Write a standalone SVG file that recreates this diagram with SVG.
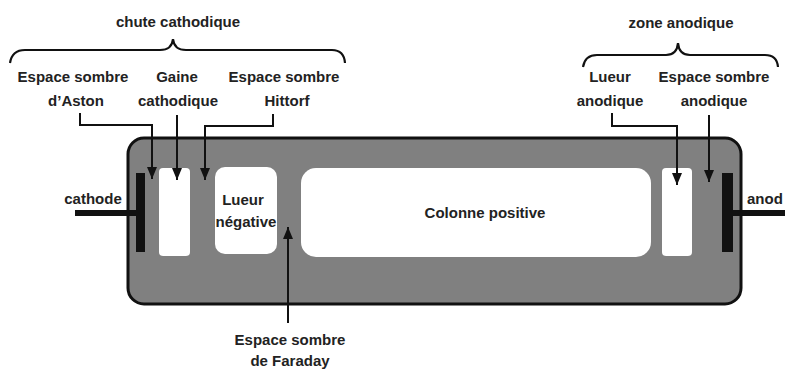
<svg xmlns="http://www.w3.org/2000/svg" width="785" height="372" viewBox="0 0 785 372">
<defs>
<style>
text{font-family:"Liberation Sans",Arial,sans-serif;font-weight:bold;font-size:15px;fill:#222;text-anchor:middle}
.ln{fill:none;stroke:#111;stroke-width:2}
.br{fill:none;stroke:#111;stroke-width:2.2}
.zone{fill:#fff}
</style>
<marker id="ah" viewBox="0 0 12 10" refX="12" refY="5" markerWidth="12" markerHeight="10" markerUnits="userSpaceOnUse" orient="auto">
<path d="M0,0 L12,5 L0,10 Z" fill="#111"/>
</marker>
</defs>
<rect width="785" height="372" fill="#fff"/>
<g id="tube">
<rect x="128" y="138" width="613" height="166" rx="16" fill="#808080" stroke="#111" stroke-width="3"/>
</g>
<g id="cathode">
<rect x="75" y="210" width="62" height="6" fill="#111"/>
<rect x="136" y="173" width="9" height="79" fill="#111"/>
<text x="93" y="204">cathode</text>
</g>
<g id="anode">
<rect x="733" y="210" width="60" height="6" fill="#111"/>
<rect x="722" y="173" width="11" height="79" fill="#111"/>
<text x="747" y="204" style="text-anchor:start">anod</text>
</g>
<g id="gaine-cathodique">
<rect class="zone" x="159" y="168" width="31" height="88" rx="4"/>
</g>
<g id="lueur-negative">
<rect class="zone" x="215" y="167" width="62" height="87" rx="10"/>
<text x="243" y="205">Lueur</text>
<text x="246" y="227">négative</text>
</g>
<g id="colonne-positive">
<rect class="zone" x="301" y="168" width="350" height="89" rx="15"/>
<text x="485" y="218">Colonne positive</text>
</g>
<g id="lueur-anodique">
<rect class="zone" x="662" y="168" width="30" height="88" rx="4"/>
</g>
<g id="chute-cathodique">
<path class="br" d="M10,63 Q12,50 25,50 L160,50 Q172,50 173,39 Q174,50 186,50 L332,50 Q344,50 345,63"/>
<text x="178" y="27">chute  cathodique</text>
</g>
<g id="zone-anodique">
<path class="br" d="M583,67 Q585,55 597,55 L666,55 Q677,55 678,43 Q679,55 690,55 L765,55 Q777,55 778,67"/>
<text x="681" y="28">zone anodique</text>
</g>
<g id="label-aston">
<text x="73" y="82">Espace sombre</text>
<text x="76" y="106">d’Aston</text>
</g>
<g id="label-gaine">
<text x="177" y="82">Gaine</text>
<text x="178" y="106">cathodique</text>
</g>
<g id="label-hittorf">
<text x="284" y="82">Espace sombre</text>
<text x="287" y="106">Hittorf</text>
</g>
<g id="label-lueur-anodique">
<text x="610" y="82">Lueur</text>
<text x="610" y="106">anodique</text>
</g>
<g id="label-espace-anodique">
<text x="714" y="82">Espace sombre</text>
<text x="714" y="106">anodique</text>
</g>
<g id="label-faraday">
<text x="290" y="345">Espace sombre</text>
<text x="290" y="366">de Faraday</text>
</g>
<g id="connectors">
<path class="ln" d="M80,113 L80,125 L152,125 L152,179" marker-end="url(#ah)"/>
<path class="ln" d="M177,115 L177,180" marker-end="url(#ah)"/>
<path class="ln" d="M273,114 L273,126 L205,126 L205,180" marker-end="url(#ah)"/>
<path class="ln" d="M612,113 L612,126 L677,126 L677,185" marker-end="url(#ah)"/>
<path class="ln" d="M709,115 L709,182" marker-end="url(#ah)"/>
<path class="ln" d="M288,323 L288,227" marker-end="url(#ah)"/>
</g>
</svg>
